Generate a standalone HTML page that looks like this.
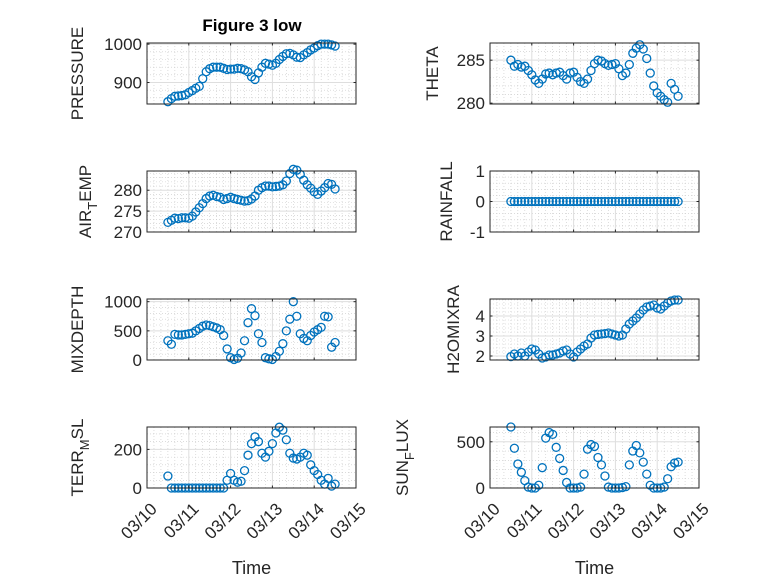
<!DOCTYPE html>
<html><head><meta charset="utf-8">
<style>
html,body{margin:0;padding:0;background:#fff;}
svg{display:block;font-family:"Liberation Sans",sans-serif;}
</style></head>
<body>
<svg id="fig" width="778" height="583" viewBox="0 0 778 583" xmlns="http://www.w3.org/2000/svg"></svg>
<script>
// ---- data ----
const hours = [12,14,16,18,20,22,24,26,28,30,32,34,36,38,40,42,44,46,48,50,52,54,56,58,60,62,64,66,68,70,72,74,76,78,80,82,84,86,88,90,92,94,96,98,100,102,104,106,108];
const dateTicks = ["03/10","03/11","03/12","03/13","03/14","03/15"];
const pressure = [850,858,864,865,866,868,874,879,885,890,910,928,936,940,940,940,937,934,935,935,937,936,933,928,915,908,925,940,950,948,945,950,960,968,975,976,972,966,965,972,978,985,990,996,1000,1000,1000,998,995];
const theta = [285,284.3,284.5,284.2,284.3,283.8,283.3,282.7,282.3,282.8,283.4,283.5,283.3,283.5,283.6,283.2,282.8,283.5,283.6,283.0,282.5,282.3,282.8,283.8,284.6,285.0,284.9,284.6,284.4,284.5,284.6,284.0,283.2,283.5,284.5,285.8,286.4,286.8,286.3,285.2,283.5,282.0,281.2,280.8,280.4,280.1,282.3,281.6,280.8];
const airTemp = [272.3,272.8,273.3,273.2,273.4,273.4,273.3,273.8,274.8,275.8,276.8,278,278.6,278.8,278.5,278.3,277.8,278.0,278.3,278.0,277.8,277.6,277.4,277.5,277.9,278.6,280,280.6,281,281,280.8,280.9,281,281.3,282.2,284,285,284.8,283.8,282.4,281.3,280.5,279.6,279.0,279.8,280.6,281.6,281.4,280.3];
const rainfall = [0,0,0,0,0,0,0,0,0,0,0,0,0,0,0,0,0,0,0,0,0,0,0,0,0,0,0,0,0,0,0,0,0,0,0,0,0,0,0,0,0,0,0,0,0,0,0,0,0];
const mixDepth = [330,270,440,430,430,440,450,460,500,540,580,600,590,570,550,520,420,190,40,10,30,120,330,640,880,760,450,300,40,20,10,60,150,280,500,700,1000,750,450,370,330,420,480,520,560,750,740,220,300];
const h2oMix = [1.97,2.1,2.0,2.15,2.0,2.2,2.35,2.3,2.1,1.9,1.95,2.05,2.05,2.1,2.15,2.25,2.3,2.1,1.95,2.2,2.35,2.5,2.6,2.9,3.05,3.08,3.1,3.12,3.15,3.1,3.05,3.0,3.05,3.35,3.6,3.75,3.9,4.1,4.3,4.45,4.5,4.55,4.4,4.35,4.5,4.65,4.75,4.8,4.8];
const terrMsl = [62,0,0,0,0,0,0,0,0,0,0,0,0,0,0,0,0,40,75,40,30,35,90,170,230,265,240,180,160,190,230,285,315,300,250,180,155,150,160,180,170,120,90,70,40,20,50,10,20];
const sunFlux = [660,430,260,170,80,10,0,0,30,220,540,600,580,440,320,190,60,0,0,0,10,150,420,470,450,330,250,130,10,0,0,0,5,15,250,400,460,380,280,150,30,0,0,0,10,100,230,270,280];

const NS="http://www.w3.org/2000/svg";
const svg=document.getElementById('fig');
function el(tag,attrs,parent){const e=document.createElementNS(NS,tag);for(const k in attrs)e.setAttribute(k,attrs[k]);(parent||svg).appendChild(e);return e;}

const panels=[
 {name:'pressure',label:[['PRESSURE']],vals:pressure,x0:147,y0:43,ylim:[844,1003],ticks:[900,1000],minor:20,lx:77},
 {name:'theta',label:[['THETA']],vals:theta,x0:490,y0:43,ylim:[279.9,287],ticks:[280,285],minor:1,lx:432},
 {name:'air-temp',label:[['AIR'],['T','sub'],['EMP']],vals:airTemp,x0:147,y0:171,ylim:[270,284.6],ticks:[270,275,280],minor:1,lx:85},
 {name:'rainfall',label:[['RAINFALL']],vals:rainfall,x0:490,y0:171,ylim:[-1,1],ticks:[-1,0,1],minor:0.2,lx:446},
 {name:'mixdepth',label:[['MIXDEPTH']],vals:mixDepth,x0:147,y0:299,ylim:[0,1046],ticks:[0,500,1000],minor:100,lx:77},
 {name:'h2omixra',label:[['H2OMIXRA']],vals:h2oMix,x0:490,y0:299,ylim:[1.8,4.85],ticks:[2,3,4],minor:0.2,lx:453},
 {name:'terr-msl',label:[['TERR'],['M','sub'],['SL']],vals:terrMsl,x0:147,y0:427,ylim:[0,316],ticks:[0,200],minor:40,lx:77,bottom:true},
 {name:'sun-flux',label:[['SUN'],['F','sub'],['LUX']],vals:sunFlux,x0:490,y0:427,ylim:[0,660],ticks:[0,500],minor:100,lx:402,bottom:true}
];
const W=209,H=61;

panels.forEach(p=>{
  const g=el('g',{});
  
  
  const xs=d=>p.x0+d/5*W;
  const ys=v=>p.y0+H-(v-p.ylim[0])/(p.ylim[1]-p.ylim[0])*H;
  el('rect',{x:p.x0,y:p.y0,width:W,height:H,fill:'#fff'},g);
  for(let h=4;h<120;h+=4){ if(h%24===0)continue; const x=xs(h/24);
    el('line',{x1:x,x2:x,y1:p.y0,y2:p.y0+H,stroke:'#c8c8c8','stroke-width':0.6,'stroke-dasharray':'1,2'},g);}
  const start=Math.ceil(p.ylim[0]/p.minor)*p.minor;
  for(let v=start;v<p.ylim[1];v+=p.minor){ const vv=Math.round(v*1000)/1000; if(p.ticks.some(t=>Math.abs(t-vv)<1e-6))continue;
    const y=ys(vv); el('line',{x1:p.x0,x2:p.x0+W,y1:y,y2:y,stroke:'#c8c8c8','stroke-width':0.6,'stroke-dasharray':'1,2'},g);}
  for(let d=1;d<5;d++){const x=xs(d);el('line',{x1:x,x2:x,y1:p.y0,y2:p.y0+H,stroke:'#dedede','stroke-width':1},g);}
  p.ticks.forEach(t=>{const y=ys(t);el('line',{x1:p.x0,x2:p.x0+W,y1:y,y2:y,stroke:'#dedede','stroke-width':1},g);});
  const mg=el('g',{},g);
  
  
  p.vals.forEach((v,i)=>{
    const c=el('circle',{cx:xs(hours[i]/24),cy:ys(v),r:4,fill:'none',stroke:'#0072BD','stroke-width':1.3},mg);
    
    
  });
  el('rect',{x:p.x0,y:p.y0,width:W,height:H,fill:'none',stroke:'#262626','stroke-width':1},g);
  for(let d=0;d<=5;d++){const x=xs(d);
    el('line',{x1:x,x2:x,y1:p.y0+H,y2:p.y0+H-2.5,stroke:'#262626'},g);
    el('line',{x1:x,x2:x,y1:p.y0,y2:p.y0+2.5,stroke:'#262626'},g);}
  p.ticks.forEach(t=>{const y=ys(t);
    el('line',{x1:p.x0,x2:p.x0+2.5,y1:y,y2:y,stroke:'#262626'},g);
    el('line',{x1:p.x0+W,x2:p.x0+W-2.5,y1:y,y2:y,stroke:'#262626'},g);
    const tl=el('text',{x:p.x0-5,y:y+6,'text-anchor':'end','font-size':17,fill:'#262626'},g);
    tl.textContent=String(t);
    
    
  });
  const cy=p.y0+H/2;
  const lab=el('text',{transform:`translate(${p.lx+6},${cy}) rotate(-90)`,'text-anchor':'middle','font-size':17,fill:'#262626'},g);
  
  
  p.label.forEach(part=>{const ts=el('tspan',{},lab); ts.textContent=part[0];
    if(part[1]==='sub'){ts.setAttribute('font-size',13);ts.setAttribute('dy',6);}
    else if(lab.childNodes.length>1){ts.setAttribute('dy',-6);} });
  if(p.bottom){
    dateTicks.forEach((s,d)=>{const x=xs(d);
      const t=el('text',{transform:`translate(${x+11},${p.y0+H+22}) rotate(-45)`,'text-anchor':'end','font-size':17,fill:'#262626'},g);
      t.textContent=s;
      
      
    });
    const xl=el('text',{x:p.x0+W/2,y:574,'text-anchor':'middle','font-size':18,fill:'#262626'},g);
    xl.textContent='Time';
    
    
  }
});
const title=el('text',{x:252,y:31,'text-anchor':'middle','font-size':17,'font-weight':'bold',fill:'#000'});
title.textContent='Figure 3 low';


</script>
</body></html>
